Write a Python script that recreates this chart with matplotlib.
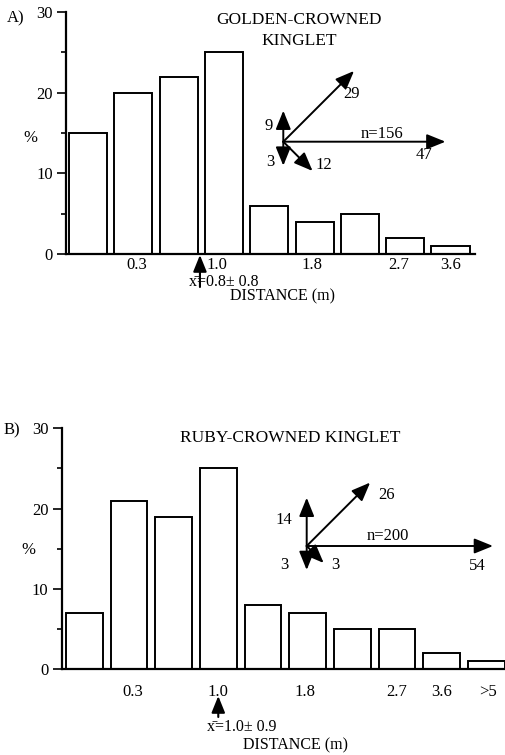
"""Kinglet foraging move distances: two stacked histograms with direction insets."""
import matplotlib
matplotlib.use("Agg")
import matplotlib.pyplot as plt  # noqa: E402
import numpy as np  # noqa: E402

plt.rcParams["font.family"] = ["Liberation Serif", "DejaVu Serif"]

# --- data -------------------------------------------------------------
gck_pct = [15, 20, 22, 25, 6, 4, 5, 2, 1]
rck_pct = [7, 21, 19, 25, 8, 7, 5, 5, 2, 1]

gck_ticks = [1.07, 2.85, 4.94, 6.86, 8.0]
gck_ticklabels = ["0.3", "1.0", "1.8", "2.7", "3.6"]
rck_ticks = [1.09, 2.99, 4.94, 7.0, 8.0, 9.05]
rck_ticklabels = ["0.3", "1.0", "1.8", "2.7", "3.6", ">5"]

# move directions (degrees) and counts for the inset arrow diagrams
dir_angles = [90, 270, -45, 45, 0]
gck_dir_counts = [9, 3, 12, 29, 47]
rck_dir_counts = [14, 3, 3, 26, 54]
gck_n = 156
rck_n = 200

gck_mean_pos = 2.47
rck_mean_pos = 3.0
gck_mean_label = "x\u0304=0.8\u00b1 0.8"
rck_mean_label = "x\u0304=1.0\u00b1 0.9"

W, H = 505, 755
fig = plt.figure(figsize=(W / 100, H / 100), dpi=100)

# overlay in pixel coordinates for free-standing annotations
ov = fig.add_axes([0, 0, 1, 1], zorder=5)
ov.set_xlim(0, W)
ov.set_ylim(H, 0)
ov.axis("off")

TICK_FS = 12
MEAN_FS = 11.5
LABEL_FS = 11.5
TITLE_FS = 12.5
HEAD = "-|>,head_length=0.42,head_width=0.17"


def hist_panel(rect, pct, width, xlim, ticks, ticklabels, xpad, ylab_xy):
    ax = fig.add_axes(rect)
    x = np.arange(len(pct))
    ax.bar(x, pct, width=width, color="white", edgecolor="black", linewidth=1.4)
    ax.set_xlim(*xlim)
    ax.set_ylim(0, 30)
    for s in ["top", "right"]:
        ax.spines[s].set_visible(False)
    for s in ["left", "bottom"]:
        ax.spines[s].set_linewidth(1.6)
    ax.set_yticks([0, 10, 20, 30])
    ax.set_yticks([5, 15, 25], minor=True)
    ax.tick_params(axis="y", which="major", direction="out", length=6.5, width=1.2,
                   labelsize=TICK_FS, pad=3)
    ax.tick_params(axis="y", which="minor", direction="out", length=3.5, width=1.2)
    ax.set_xticks(ticks)
    ax.set_xticklabels(ticklabels)
    ax.tick_params(axis="x", length=0, labelsize=TICK_FS, pad=xpad)
    ax.set_ylabel("%", rotation=0, fontsize=TICK_FS, va="center", ha="center")
    ax.yaxis.set_label_coords(*ylab_xy)
    return ax


def arrow(x0, y0, x1, y1, scale=27, lw=1.4):
    ov.annotate("", xy=(x1, y1), xytext=(x0, y0),
                arrowprops=dict(arrowstyle=HEAD, mutation_scale=scale, lw=lw,
                                color="black", shrinkA=0, shrinkB=0))


def direction_inset(origin, counts, label_offsets, n, n_xy):
    ox, oy = origin
    for ang, c, (dx, dy) in zip(dir_angles, counts, label_offsets):
        length = max(c * 3.45, 24)
        tx = ox + length * np.cos(np.radians(ang))
        ty = oy - length * np.sin(np.radians(ang))
        arrow(ox, oy, tx, ty)
        ov.text(tx + dx, ty + dy, str(c), fontsize=TICK_FS, ha="center", va="center")
    ov.text(*n_xy, f"n={n}", fontsize=TICK_FS, ha="center", va="center")


def mean_arrow(ax, pos, tip_y, tail_y):
    # horizontal position of the mean from the axis' own data scale
    px = ax.transData.transform((pos, 0))[0]
    arrow(px, tail_y, px, tip_y, scale=24, lw=1.5)
    return px


# --- panel A: golden-crowned kinglet ----------------------------------
axA = hist_panel([66 / W, 1 - 254 / H, 409 / W, 242 / H], gck_pct, 0.84,
                 (-0.486, 8.54), gck_ticks, gck_ticklabels, 2, (-0.088, 0.48))
ov.text(16, 18, "A)", fontsize=TICK_FS, ha="center", va="center")
ov.text(299, 20, "GOLDEN-CROWNED", fontsize=TITLE_FS, ha="center", va="center")
ov.text(299, 41, "KINGLET", fontsize=TITLE_FS, ha="center", va="center")
direction_inset((283.3, 141.7), gck_dir_counts,
                [(-15, 15), (-13, -4), (11, -6), (-3, 23), (-21, 13)],
                gck_n, (381.7, 134))
mean_arrow(axA, gck_mean_pos, 255, 287)
ov.text(224, 282, gck_mean_label, fontsize=MEAN_FS, ha="center", va="center")
ov.text(283, 296, "DISTANCE (m)", fontsize=LABEL_FS, ha="center", va="center")

# --- panel B: ruby-crowned kinglet -------------------------------------
axB = hist_panel([61.7 / W, 1 - 669 / H, 443.3 / W, 240.7 / H], rck_pct, 0.82,
                 (-0.506, 9.42), rck_ticks, rck_ticklabels, 11, (-0.076, 0.494))
ov.text(12, 430, "B)", fontsize=TICK_FS, ha="center", va="center")
ov.text(290.5, 438, "RUBY-CROWNED KINGLET", fontsize=TITLE_FS, ha="center", va="center")
direction_inset((306.7, 546), rck_dir_counts,
                [(-23, 22), (-22, -5), (12, 2), (16, 12), (-16, 20)],
                rck_n, (388.3, 536))
mean_arrow(axB, rck_mean_pos, 696, 717)
ov.text(242, 727, rck_mean_label, fontsize=MEAN_FS, ha="center", va="center")
ov.text(295.5, 745, "DISTANCE (m)", fontsize=LABEL_FS, ha="center", va="center")

fig.savefig("out.png", dpi=100)
plt.close(fig)
